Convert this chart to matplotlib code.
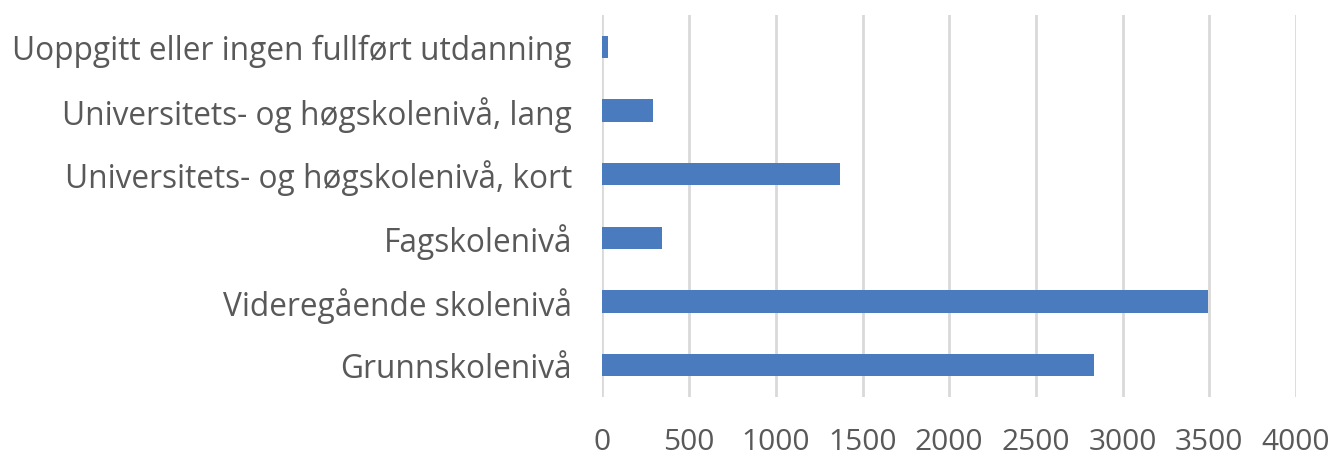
import matplotlib.pyplot as plt

# categories listed bottom to top, as drawn
categories = [
    'Grunnskolenivå',
    'Videregående skolenivå',
    'Fagskolenivå',
    'Universitets- og høgskolenivå, kort',
    'Universitets- og høgskolenivå, lang',
    'Uoppgitt eller ingen fullført utdanning',
]
values = [2833, 3492, 346, 1369, 290, 33]
xticks = [0, 500, 1000, 1500, 2000, 2500, 3000, 3500, 4000]

plt.rcParams['font.family'] = ['Open Sans', 'DejaVu Sans']

fig = plt.figure(figsize=(13.37, 4.57), dpi=100)
ax = fig.add_axes([0.4506, 0.131, 0.9693 - 0.4506, 0.836])

ax.barh(categories, values, height=0.35, color='#4A7BBF', zorder=3)

ax.set_xlim(0, 4000)
ax.set_ylim(-0.5, len(categories) - 0.5)
ax.set_xticks(xticks)
ax.set_xticklabels([str(t) for t in xticks])
ax.grid(axis='x', color='#D9D9D9', linewidth=2, zorder=0)

for s in ax.spines.values():
    s.set_visible(False)

ax.tick_params(axis='both', length=0, labelcolor='#595959')
ax.tick_params(axis='x', pad=22, labelsize=21.5)
ax.tick_params(axis='y', pad=22, labelsize=22.8)

fig.savefig('out.png', dpi=100)
